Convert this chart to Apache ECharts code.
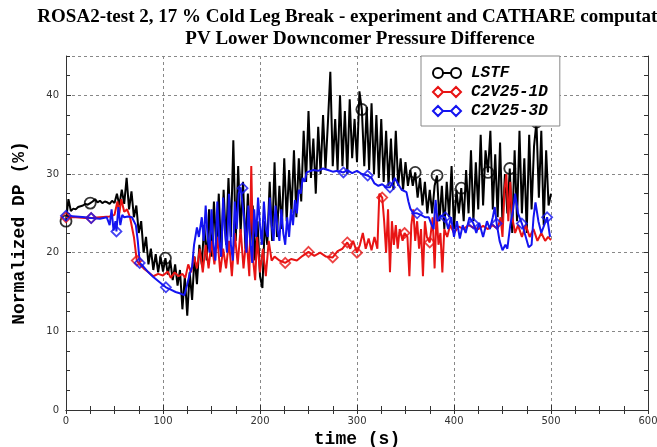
<!DOCTYPE html>
<html><head><meta charset="utf-8">
<script src="https://cdn.jsdelivr.net/npm/echarts@6/dist/echarts.min.js"></script>
<style>html,body{margin:0;padding:0;background:#fff}#c{width:657px;height:447px}</style>
</head><body><div id="c"></div>
<script>
const titleLine1 = 'ROSA2-test 2, 17 % Cold Leg Break - experiment and CATHARE computation';
const titleLine2 = 'PV Lower Downcomer Pressure Difference';
const xAxisName = 'time (s)';
const yAxisName = 'Normalized DP (%)';
const seriesNames = ['LSTF', 'C2V25-1D', 'C2V25-3D'];

const lstfT = [0,2.5,5,7.5,10,12.5,15,17.5,20,22.5,25,27.5,30,32.5,35,37.5,40,42.5,45,47.5,50,52.5,55,57.5,60,62.5,65,67.5,70,72.5,75,77.5,80,82.5,85,87.5,90,92.5,95,97.5,100,102.5,105,107.5,110,112.5,115,117.5,120,122.5,125,127.5,130,132.5,135,137.5,140,142.5,145,147.5,150,152.5,155,157.5,160,162.5,165,167.5,170,172.5,175,177.5,180,182.5,185,187.5,190,192.5,195,197.5,200,202.5,205,207.5,210,212.5,215,217.5,220,222.5,225,227.5,230,232.5,235,237.5,240,242.5,245,247.5,250,252.5,255,257.5,260,262.5,265,267.5,270,272.5,275,277.5,280,282.5,285,287.5,290,292.5,295,297.5,300,302.5,305,307.5,310,312.5,315,317.5,320,322.5,325,327.5,330,332.5,335,337.5,340,342.5,345,347.5,350,352.5,355,357.5,360,362.5,365,367.5,370,372.5,375,377.5,380,382.5,385,387.5,390,392.5,395,397.5,400,402.5,405,407.5,410,412.5,415,417.5,420,422.5,425,427.5,430,432.5,435,437.5,440,442.5,445,447.5,450,452.5,455,457.5,460,462.5,465,467.5,470,472.5,475,477.5,480,482.5,485,487.5,490,492.5,495,497.5,500];
const lstfV = [
24.0,26.8,25.3,25.6,25.5,25.8,25.9,26.0,26.2,26.1,
26.3,26.5,26.8,26.4,26.6,26.3,26.5,26.4,26.2,26.6,
26.3,27.5,26.0,28.0,26.2,29.5,25.5,27.8,24.5,26.0,
22.5,24.0,20.0,22.0,18.5,20.5,17.8,19.8,17.5,19.5,
17.6,19.3,17.2,19.0,16.5,18.5,15.8,17.8,12.8,17.0,
12.0,17.5,14.0,19.5,16.0,21.0,18.5,23.5,19.0,25.5,
19.5,26.5,20.5,27.5,19.5,28.0,21.0,29.5,22.0,34.3,
21.5,31.0,22.5,29.0,20.5,27.5,21.0,26.0,19.0,24.0,
17.0,15.5,24.0,21.0,29.0,21.5,31.5,22.0,28.5,23.0,
32.0,24.0,30.5,25.0,33.0,24.5,32.0,26.5,35.5,29.0,
38.0,29.5,34.5,27.5,36.0,30.0,37.5,30.5,36.5,43.0,
31.0,37.0,30.5,40.0,31.0,38.0,30.0,39.5,32.0,37.0,
31.5,40.5,38.2,31.0,38.5,30.5,39.0,30.0,37.5,29.5,
37.0,29.0,35.5,28.5,34.5,28.0,35.5,28.5,32.0,28.0,
31.5,28.5,30.5,28.5,30.2,27.0,29.5,26.0,29.0,25.0,
28.0,25.0,28.5,29.8,24.0,28.5,23.0,29.0,24.5,31.0,
23.0,28.0,25.0,28.2,24.0,30.5,25.0,33.0,24.0,31.5,
25.5,35.0,26.0,33.0,30.2,35.5,25.5,32.5,24.5,34.0,
23.5,30.0,25.0,30.7,22.5,33.0,24.0,35.5,25.0,32.0,
22.5,35.0,25.5,33.5,36.6,27.0,35.5,23.5,33.0,26.0,
27.5];
const lstfMarkT = [0,25,102.5,305,360,382.5,407.5,435,457.5,485];
const lstfMarkV = [24.0,26.3,19.3,38.2,30.2,29.8,28.2,30.2,30.7,36.6];

const c1dT = [0,10,20,26,35,45,50,53,55,57,60,63,66,70,73,76,80,85,90,95,100,105,108,112,116,120,123,126,129,132,135,138,141,144,147,150,153,156,159,162,165,168,171,174,177,180,183,186,189,191,193,195,197,200,203,206,209,212,215,220,226,232,238,244,250,256,262,268,275,280,285,290,293,296,300,303,306,309,312,315,318,321,323,326,328,330,332,334,336,338,340,342,344,347,349,352,354,356,358,360,362,364,366,368,370,372,375,378,380,382,384,386,388,390,393,396,400,405,410,415,420,425,430,435,440,445,448,450,452,454,456,458,460,463,466,470,474,478,482,486,490,494,497,500];
const c1dV = [24.5,24.5,24.4,24.4,24.5,24.6,24.8,26.5,25.0,26.8,25.2,25.5,24.5,22.0,19.0,18.5,18.0,17.5,17.0,17.3,17.1,17.6,16.8,17.5,17.0,17.3,16.8,18.5,17.5,19.5,18.0,20.5,17.5,21.0,18.0,21.5,18.5,22.0,17.5,20.5,18.0,21.5,17.0,22.5,18.5,23.0,18.0,22.0,17.0,31.0,19.0,16.5,22.0,17.5,20.5,17.0,21.5,19.0,19.5,19.0,18.7,19.2,19.0,19.6,20.1,19.6,20.0,19.5,19.4,20.2,20.5,21.3,20.5,21.5,20.0,21.0,22.5,20.5,21.8,20.3,22.0,20.5,27.5,27.0,24.0,20.0,25.5,17.5,24.0,21.0,23.5,20.5,23.0,21.5,22.5,22.0,17.0,23.5,25.5,21.5,24.0,20.5,23.0,17.0,24.0,22.0,21.3,24.5,18.0,25.0,21.0,22.5,17.5,23.0,22.0,23.5,22.5,23.3,23.0,23.5,23.2,23.0,23.4,23.0,23.5,23.0,24.5,22.0,28.0,30.0,24.0,29.0,24.5,22.5,23.5,22.0,23.5,22.0,23.0,21.5,22.5,21.5,22.0,21.6];
const c1dMarkT = [0,26,73,226,250,275,290,300,326,349,375];
const c1dMarkV = [24.5,24.4,19.0,18.7,20.1,19.4,21.3,20.0,27.0,22.5,21.3];

const c3dT = [0,10,20,26,35,42,45,47,49,51,52,54,56,58,60,64,68,72,74,76,80,85,90,95,100,103,108,113,118,122,125,128,130,132,135,137,140,142,144,146,148,150,152,154,156,158,160,162,164,166,168,170,172,174,176,178,180,182,184,186,188,190,192,194,196,198,200,202,204,206,208,210,212,214,216,218,220,222,224,226,228,230,232,234,236,238,240,242,244,246,248,250,255,260,265,270,275,280,286,290,295,300,305,311,315,318,322,326,330,334,337,339,342,346,351,353,355,358,362,366,370,374,377,379,381,383,386,391,394,397,400,403,406,409,412,416,420,423,426,430,434,437,440,442,444,447,450,453,455,458,461,463,466,470,474,477,480,482,484,487,490,493,496,499];
const c3dV = [24.7,24.6,24.5,24.4,24.3,24.5,23.5,25.5,22.8,24.0,22.7,25.8,23.5,24.8,24.5,24.6,24.5,23.5,21.5,18.7,18.2,17.5,16.9,16.4,15.9,15.6,15.3,15.0,14.8,14.6,16.0,17.5,18.2,21.0,23.2,22.0,24.5,21.5,26.0,22.0,20.0,25.5,21.0,19.0,26.5,21.5,19.5,27.0,22.5,20.0,27.5,21.0,19.0,26.5,23.0,27.5,28.3,28.2,24.0,20.0,26.0,21.5,18.7,25.5,22.0,27.0,23.5,21.0,26.5,23.0,22.0,27.0,23.5,21.5,26.0,23.0,21.5,25.5,22.5,21.0,24.5,22.0,25.5,23.5,26.7,25.0,28.0,27.5,29.5,29.0,30.2,30.3,30.5,30.4,30.7,30.5,30.3,30.4,30.2,30.5,30.1,30.4,30.0,29.8,29.5,28.8,28.5,28.7,28.3,28.3,29.0,29.5,28.8,28.0,27.7,26.5,25.6,25.0,25.0,24.8,24.5,24.5,23.5,23.0,26.7,24.0,24.7,24.5,23.0,24.5,22.0,24.0,21.8,23.5,22.5,24.5,23.7,22.5,23.8,22.0,24.0,23.0,24.5,25.8,23.7,21.5,20.3,21.0,20.5,23.5,25.5,27.5,25.0,23.7,22.0,20.7,21.0,24.5,26.4,24.0,22.5,23.5,24.5,22.0];
const c3dMarkT = [0,26,52,76,103,182,286,311,334,362,391,420,444,470,496];
const c3dMarkV = [24.7,24.4,22.7,18.7,15.6,28.2,30.2,29.8,28.3,25.0,24.5,23.7,23.7,23.7,24.5];

const colors = ['#000000', '#e81414', '#1414f0'];
const pairs = (t, v) => t.map((x, i) => [x, v[i]]);

const circlePath = 'path://M1,6 A5,5 0 1,1 11,6 A5,5 0 1,1 1,6 Z M11,6 L19,6 M19,6 A5,5 0 1,1 29,6 A5,5 0 1,1 19,6 Z';
const diamondPath = 'path://M1,6 L6,1 L11,6 L6,11 Z M11,6 L19,6 M19,6 L24,1 L29,6 L24,11 Z';

const chart = echarts.init(document.getElementById('c'), null, {renderer: 'canvas'});
const labelStyle = {fontFamily: 'DejaVu Sans', fontSize: 10, color: '#333'};
const nameStyle = {fontFamily: 'Liberation Mono', fontWeight: 'bold', fontSize: 18, color: '#000'};
const frame = {show: true, lineStyle: {color: '#333', width: 1}};

function lineSeries(name, t, v, color) {
  return {type: 'line', name, data: pairs(t, v), showSymbol: false, symbol: 'none',
    lineStyle: {color, width: 2}, itemStyle: {color}, animation: false, clip: true, z: 2};
}
function markSeries(name, t, v, color, symbol, size) {
  return {type: 'scatter', name, data: pairs(t, v), symbol, symbolSize: size,
    itemStyle: {color: 'rgba(0,0,0,0)', borderColor: color, borderWidth: 1.8}, animation: false, z: 3};
}

chart.setOption({
  animation: false,
  backgroundColor: '#fff',
  graphic: [
    {type: 'text', x: 360, y: 17, style: {text: titleLine1, font: 'bold 19px "Liberation Serif"', fill: '#000', textAlign: 'center', textVerticalAlign: 'middle'}},
    {type: 'text', x: 360, y: 39, style: {text: titleLine2, font: 'bold 19px "Liberation Serif"', fill: '#000', textAlign: 'center', textVerticalAlign: 'middle'}}
  ],
  grid: {left: 66, right: 9, top: 56, bottom: 37, containLabel: false, outerBoundsMode: 'none'},
  legend: {
    left: 421, top: 56, orient: 'vertical', selectedMode: false,
    backgroundColor: '#fff', borderColor: '#888', borderWidth: 1, padding: [8, 12, 6, 11],
    itemWidth: 28, itemHeight: 11, itemGap: 1,
    textStyle: {fontFamily: 'Liberation Mono', fontStyle: 'italic', fontWeight: 'bold', fontSize: 16, color: '#000', lineHeight: 18, padding: [0, 0, 0, 5]},
    data: [
      {name: seriesNames[0], icon: circlePath, itemStyle: {color: 'rgba(0,0,0,0)', borderColor: colors[0], borderWidth: 2}},
      {name: seriesNames[1], icon: diamondPath, itemStyle: {color: 'rgba(0,0,0,0)', borderColor: colors[1], borderWidth: 2}},
      {name: seriesNames[2], icon: diamondPath, itemStyle: {color: 'rgba(0,0,0,0)', borderColor: colors[2], borderWidth: 2}}
    ]
  },
  xAxis: [
    {type: 'value', min: 0, max: 600, interval: 100, position: 'bottom',
      name: xAxisName, nameLocation: 'middle', nameGap: 18, nameTextStyle: nameStyle,
      axisLine: frame, axisTick: {show: true, inside: true, length: 5, lineStyle: {color: '#333'}},
      minorTick: {show: true, splitNumber: 4, length: 4, lineStyle: {color: '#333'}},
      axisLabel: Object.assign({margin: 6}, labelStyle),
      splitLine: {show: true, lineStyle: {color: '#888', type: [3, 3], width: 1}}},
    {type: 'value', min: 0, max: 600, interval: 25, position: 'top',
      axisLine: frame, axisTick: {show: true, inside: true, length: 4, lineStyle: {color: '#333'}},
      axisLabel: {show: false}, splitLine: {show: false}}
  ],
  yAxis: [
    {type: 'value', min: 0, max: 45, interval: 10, position: 'left',
      name: yAxisName, nameLocation: 'middle', nameGap: 38, nameTextStyle: nameStyle,
      axisLine: frame, axisTick: {show: true, inside: true, length: 5, lineStyle: {color: '#333'}},
      axisLabel: Object.assign({margin: 7, showMaxLabel: false}, labelStyle),
      splitLine: {show: true, lineStyle: {color: '#888', type: [3, 3], width: 1}}},
    {type: 'value', min: 0, max: 45, interval: 2.5, position: 'left',
      axisLine: {show: false}, axisTick: {show: true, inside: true, length: 4, lineStyle: {color: '#333'}},
      axisLabel: {show: false}, splitLine: {show: false}},
    {type: 'value', min: 0, max: 45, interval: 2.5, position: 'right',
      axisLine: frame, axisTick: {show: true, inside: true, length: 4, lineStyle: {color: '#333'}},
      axisLabel: {show: false}, splitLine: {show: false}}
  ],
  series: [
    lineSeries(seriesNames[0], lstfT, lstfV, colors[0]),
    markSeries(seriesNames[0], lstfMarkT, lstfMarkV, colors[0], 'circle', 11),
    lineSeries(seriesNames[1], c1dT, c1dV, colors[1]),
    markSeries(seriesNames[1], c1dMarkT, c1dMarkV, colors[1], 'diamond', 10),
    lineSeries(seriesNames[2], c3dT, c3dV, colors[2]),
    markSeries(seriesNames[2], c3dMarkT, c3dMarkV, colors[2], 'diamond', 10)
  ]
});
</script>
</body></html>
